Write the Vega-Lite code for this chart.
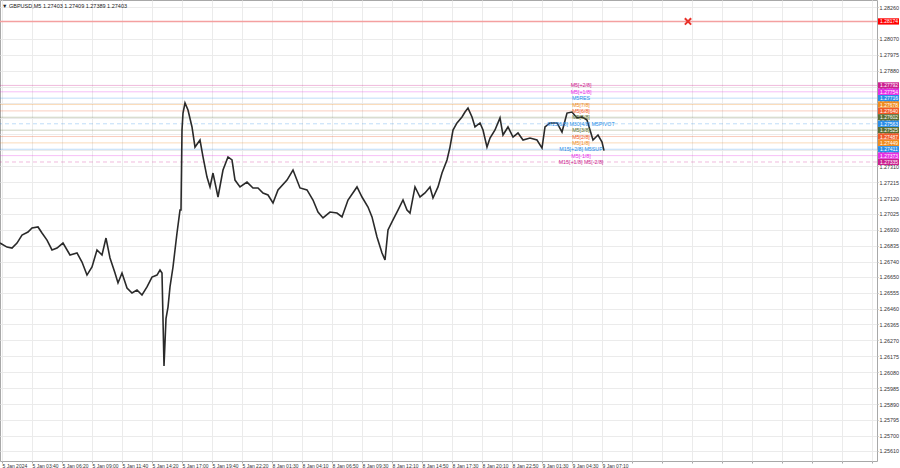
{
  "$schema": "https://vega.github.io/schema/vega-lite/v6.json",
  "width": 877,
  "height": 461,
  "autosize": {"type": "none"},
  "padding": {"left": 0, "top": 0, "right": 23, "bottom": 7},
  "background": "#ffffff",
  "config": {
    "view": {"stroke": "#a8a8a8", "strokeWidth": 1},
    "font": "Liberation Sans",
    "axis": {"gridColor": "#ebebeb", "gridWidth": 1, "domain": false, "tickColor": "#a8a8a8", "labelColor": "#333333", "labelFont": "Liberation Sans", "labelFontSize": 5.3, "title": null, "labelOverlap": false}
  },
  "title": {"text": "▼ GBPUSD,M5  1.27403 1.27409 1.27389 1.27403", "anchor": "start", "frame": "group", "orient": "top", "offset": -13, "baseline": "alphabetic", "fontSize": 5.5, "fontWeight": "normal", "color": "#222222", "font": "Liberation Sans", "dx": 2},
  "datasets": {
    "price": [
      {"bar": 0, "price": 1.26851}, {"bar": 7, "price": 1.26827}, {"bar": 12, "price": 1.26821}, {"bar": 17, "price": 1.26851},
      {"bar": 22, "price": 1.26899}, {"bar": 28, "price": 1.26917}, {"bar": 32, "price": 1.26941}, {"bar": 38, "price": 1.26947},
      {"bar": 42, "price": 1.26911}, {"bar": 47, "price": 1.26869}, {"bar": 52, "price": 1.2681}, {"bar": 57, "price": 1.26821},
      {"bar": 63, "price": 1.26851}, {"bar": 70, "price": 1.2678}, {"bar": 77, "price": 1.26792}, {"bar": 82, "price": 1.26738},
      {"bar": 87, "price": 1.2666}, {"bar": 92, "price": 1.26708}, {"bar": 97, "price": 1.2681}, {"bar": 102, "price": 1.2678},
      {"bar": 106, "price": 1.26881}, {"bar": 110, "price": 1.26762}, {"bar": 115, "price": 1.26672}, {"bar": 118, "price": 1.26613},
      {"bar": 122, "price": 1.26672}, {"bar": 127, "price": 1.26583}, {"bar": 132, "price": 1.26553}, {"bar": 137, "price": 1.26571},
      {"bar": 142, "price": 1.26541}, {"bar": 147, "price": 1.26589}, {"bar": 152, "price": 1.26648}, {"bar": 157, "price": 1.2666},
      {"bar": 160, "price": 1.2669}, {"bar": 162, "price": 1.26672}, {"bar": 164, "price": 1.26117}, {"bar": 166, "price": 1.264},
      {"bar": 168, "price": 1.26469}, {"bar": 170, "price": 1.26589}, {"bar": 173, "price": 1.26708}, {"bar": 177, "price": 1.26911},
      {"bar": 180, "price": 1.27048}, {"bar": 181, "price": 1.27048}, {"bar": 182, "price": 1.27526}, {"bar": 183, "price": 1.27627},
      {"bar": 185, "price": 1.27687}, {"bar": 188, "price": 1.27645}, {"bar": 192, "price": 1.27544}, {"bar": 195, "price": 1.27424},
      {"bar": 200, "price": 1.27466}, {"bar": 203, "price": 1.27365}, {"bar": 207, "price": 1.27245}, {"bar": 210, "price": 1.27186},
      {"bar": 213, "price": 1.27269}, {"bar": 218, "price": 1.27126}, {"bar": 223, "price": 1.27287}, {"bar": 228, "price": 1.27365},
      {"bar": 232, "price": 1.27347}, {"bar": 235, "price": 1.27227}, {"bar": 240, "price": 1.27186}, {"bar": 247, "price": 1.27215},
      {"bar": 253, "price": 1.2718}, {"bar": 258, "price": 1.2718}, {"bar": 263, "price": 1.2715}, {"bar": 268, "price": 1.27138},
      {"bar": 273, "price": 1.2709}, {"bar": 278, "price": 1.27168}, {"bar": 287, "price": 1.27227}, {"bar": 293, "price": 1.27287},
      {"bar": 300, "price": 1.2718}, {"bar": 307, "price": 1.27168}, {"bar": 313, "price": 1.27108}, {"bar": 318, "price": 1.27036},
      {"bar": 323, "price": 1.27001}, {"bar": 330, "price": 1.27036}, {"bar": 337, "price": 1.2703}, {"bar": 342, "price": 1.27007},
      {"bar": 348, "price": 1.27108}, {"bar": 357, "price": 1.27186}, {"bar": 362, "price": 1.27126}, {"bar": 368, "price": 1.27066},
      {"bar": 372, "price": 1.27007}, {"bar": 377, "price": 1.26887}, {"bar": 382, "price": 1.26792}, {"bar": 385, "price": 1.2675},
      {"bar": 388, "price": 1.26929}, {"bar": 393, "price": 1.26989}, {"bar": 398, "price": 1.27048}, {"bar": 403, "price": 1.27108},
      {"bar": 407, "price": 1.27048}, {"bar": 410, "price": 1.2703}, {"bar": 415, "price": 1.27186}, {"bar": 420, "price": 1.27126},
      {"bar": 425, "price": 1.2715}, {"bar": 430, "price": 1.27186}, {"bar": 433, "price": 1.2712}, {"bar": 438, "price": 1.27186},
      {"bar": 442, "price": 1.27269}, {"bar": 447, "price": 1.27347}, {"bar": 450, "price": 1.27424}, {"bar": 453, "price": 1.27526},
      {"bar": 457, "price": 1.27568}, {"bar": 462, "price": 1.27604}, {"bar": 465, "price": 1.27633}, {"bar": 468, "price": 1.27657},
      {"bar": 472, "price": 1.27604}, {"bar": 475, "price": 1.27544}, {"bar": 480, "price": 1.27568}, {"bar": 483, "price": 1.27526},
      {"bar": 487, "price": 1.27424}, {"bar": 490, "price": 1.27478}, {"bar": 495, "price": 1.27526}, {"bar": 500, "price": 1.27598},
      {"bar": 503, "price": 1.27496}, {"bar": 508, "price": 1.27544}, {"bar": 513, "price": 1.27484}, {"bar": 518, "price": 1.27508},
      {"bar": 523, "price": 1.27466}, {"bar": 530, "price": 1.27478}, {"bar": 537, "price": 1.27466}, {"bar": 542, "price": 1.27418},
      {"bar": 545, "price": 1.27544}, {"bar": 550, "price": 1.27568}, {"bar": 557, "price": 1.27568}, {"bar": 562, "price": 1.27514},
      {"bar": 567, "price": 1.27627}, {"bar": 572, "price": 1.27633}, {"bar": 577, "price": 1.27598}, {"bar": 582, "price": 1.27604},
      {"bar": 587, "price": 1.27586}, {"bar": 590, "price": 1.27526}, {"bar": 593, "price": 1.27466}, {"bar": 598, "price": 1.27496},
      {"bar": 602, "price": 1.27454}, {"bar": 604, "price": 1.27403}
    ],
    "levels": [
      {"label": "M5[+2/8]", "price": 1.27792},
      {"label": "M5[+1/8]", "price": 1.27754},
      {"label": "M5RES", "price": 1.27716},
      {"label": "M5[7/8]", "price": 1.27678},
      {"label": "M5[6/8]", "price": 1.2764},
      {"label": "M5[5/8]", "price": 1.27602},
      {"label": "M15[6/8] M30[4/8] M5PIVOT", "price": 1.27563},
      {"label": "M5[3/8]", "price": 1.27525},
      {"label": "M5[2/8]", "price": 1.27487},
      {"label": "M5[1/8]", "price": 1.27449},
      {"label": "M15[+2/8] M5SUP", "price": 1.27411},
      {"label": "M5[-1/8]", "price": 1.27373},
      {"label": "M15[+1/8] M5[-2/8]", "price": 1.27335}
    ],
    "alert": [{"bar": 688, "price": 1.28174}]
  },
  "layer": [
    {
      "data": {"name": "levels"},
      "mark": {"type": "rule", "strokeWidth": 1, "opacity": 0.3},
      "encoding": {
        "y": {"field": "price", "type": "quantitative",
          "scale": {"domain": [1.2555, 1.28302], "nice": false, "zero": false},
          "axis": {"orient": "right", "values": [1.2826, 1.2807, 1.27975, 1.2788, 1.27785, 1.2769, 1.27595, 1.275, 1.27405, 1.2731, 1.27215, 1.2712, 1.27025, 1.2693, 1.26835, 1.2674, 1.2665, 1.26555, 1.2646, 1.26365, 1.2627, 1.26175, 1.2608, 1.25985, 1.2589, 1.25795, 1.257, 1.2561], "tickCount": 200, "format": ".5f", "tickSize": 1, "labelPadding": 1, "grid": true, "labelOverlap": false, "labelFontSize": 5.4}},
        "color": {"field": "label", "type": "nominal", "legend": null,
          "scale": {"domain": ["M5[+2/8]", "M5[+1/8]", "M5RES", "M5[7/8]", "M5[6/8]", "M5[5/8]", "M15[6/8] M30[4/8] M5PIVOT", "M5[3/8]", "M5[2/8]", "M5[1/8]", "M15[+2/8] M5SUP", "M5[-1/8]", "M15[+1/8] M5[-2/8]"],
            "range": ["#cc1f8f", "#e62ee6", "#2a8ee8", "#f08c1e", "#f05a28", "#5a6e32", "#2a8ee8", "#5a6e32", "#f05a28", "#f08c1e", "#2a8ee8", "#e62ee6", "#cc1f8f"]}},
        "strokeDash": {"field": "label", "type": "nominal", "legend": null,
          "scale": {"domain": ["M5[+2/8]", "M5[+1/8]", "M5RES", "M5[7/8]", "M5[6/8]", "M5[5/8]", "M15[6/8] M30[4/8] M5PIVOT", "M5[3/8]", "M5[2/8]", "M5[1/8]", "M15[+2/8] M5SUP", "M5[-1/8]", "M15[+1/8] M5[-2/8]"],
            "range": [[1, 0], [1, 0], [1, 0], [1, 0], [1, 0], [1, 0], [4, 3], [1, 0], [1, 0], [1, 0], [1, 0], [1, 0], [4, 3]]}}
      }
    },
    {
      "data": {"name": "alert"},
      "mark": {"type": "rule", "strokeWidth": 1.5, "color": "#f4a0a0"},
      "encoding": {"y": {"field": "price", "type": "quantitative"}}
    },
    {
      "data": {"name": "price"},
      "mark": {"type": "line", "color": "#2a2a2a", "strokeWidth": 1.6, "interpolate": "linear"},
      "encoding": {
        "x": {"field": "bar", "type": "quantitative",
          "scale": {"domain": [0, 877], "nice": false, "zero": false},
          "axis": {"orient": "bottom", "values": [2, 32, 62, 92, 122, 152, 182, 212, 242, 272, 302, 332, 362, 392, 422, 452, 482, 512, 542, 572, 602, 632, 662, 692, 722, 752, 782, 812, 842, 872], "tickCount": 200,
            "labelExpr": "datum.value <= 602 ? ['5 Jan 2024','5 Jan 03:40','5 Jan 06:20','5 Jan 09:00','5 Jan 11:40','5 Jan 14:20','5 Jan 17:00','5 Jan 19:40','5 Jan 22:20','8 Jan 01:30','8 Jan 04:10','8 Jan 06:50','8 Jan 09:30','8 Jan 12:10','8 Jan 14:50','8 Jan 17:30','8 Jan 20:10','8 Jan 22:50','9 Jan 01:30','9 Jan 04:30','9 Jan 07:10'][round((datum.value - 2) / 30)] : ''",
            "labelAlign": "left", "labelBaseline": "top", "labelPadding": 0, "tickSize": 2, "grid": true, "labelOverlap": false, "labelBound": false, "labelFlush": false, "labelFontSize": 5}},
        "y": {"field": "price", "type": "quantitative"}
      }
    },
    {
      "data": {"name": "levels"},
      "mark": {"type": "text", "fontSize": 5.3, "align": "center", "baseline": "middle", "font": "Liberation Sans"},
      "encoding": {
        "x": {"datum": 581},
        "y": {"field": "price", "type": "quantitative"},
        "text": {"field": "label"},
        "color": {"field": "label", "type": "nominal", "legend": null}
      }
    },
    {
      "data": {"name": "levels"},
      "mark": {"type": "rule", "strokeWidth": 6.3},
      "encoding": {
        "x": {"datum": 878},
        "x2": {"datum": 899},
        "y": {"field": "price", "type": "quantitative"},
        "color": {"field": "label", "type": "nominal", "legend": null}
      }
    },
    {
      "data": {"name": "alert"},
      "mark": {"type": "rule", "strokeWidth": 6.3, "color": "#ff0000"},
      "encoding": {
        "x": {"datum": 878},
        "x2": {"datum": 899},
        "y": {"field": "price", "type": "quantitative"}
      }
    },
    {
      "data": {"name": "levels"},
      "mark": {"type": "text", "fontSize": 5, "align": "left", "baseline": "middle", "color": "#ffffff", "font": "Liberation Sans"},
      "encoding": {
        "x": {"datum": 880},
        "y": {"field": "price", "type": "quantitative"},
        "text": {"field": "price", "type": "quantitative", "format": ".5f"}
      }
    },
    {
      "data": {"name": "alert"},
      "mark": {"type": "text", "fontSize": 5, "align": "left", "baseline": "middle", "color": "#ffffff", "font": "Liberation Sans"},
      "encoding": {
        "x": {"datum": 880},
        "y": {"field": "price", "type": "quantitative"},
        "text": {"field": "price", "type": "quantitative", "format": ".5f"}
      }
    },
    {
      "data": {"name": "alert"},
      "mark": {"type": "point", "shape": "M-1,-1L1,1M1,-1L-1,1", "filled": false, "size": 40, "strokeWidth": 2, "color": "#e8322a", "opacity": 1},
      "encoding": {
        "x": {"field": "bar", "type": "quantitative"},
        "y": {"field": "price", "type": "quantitative"}
      }
    }
  ]
}
